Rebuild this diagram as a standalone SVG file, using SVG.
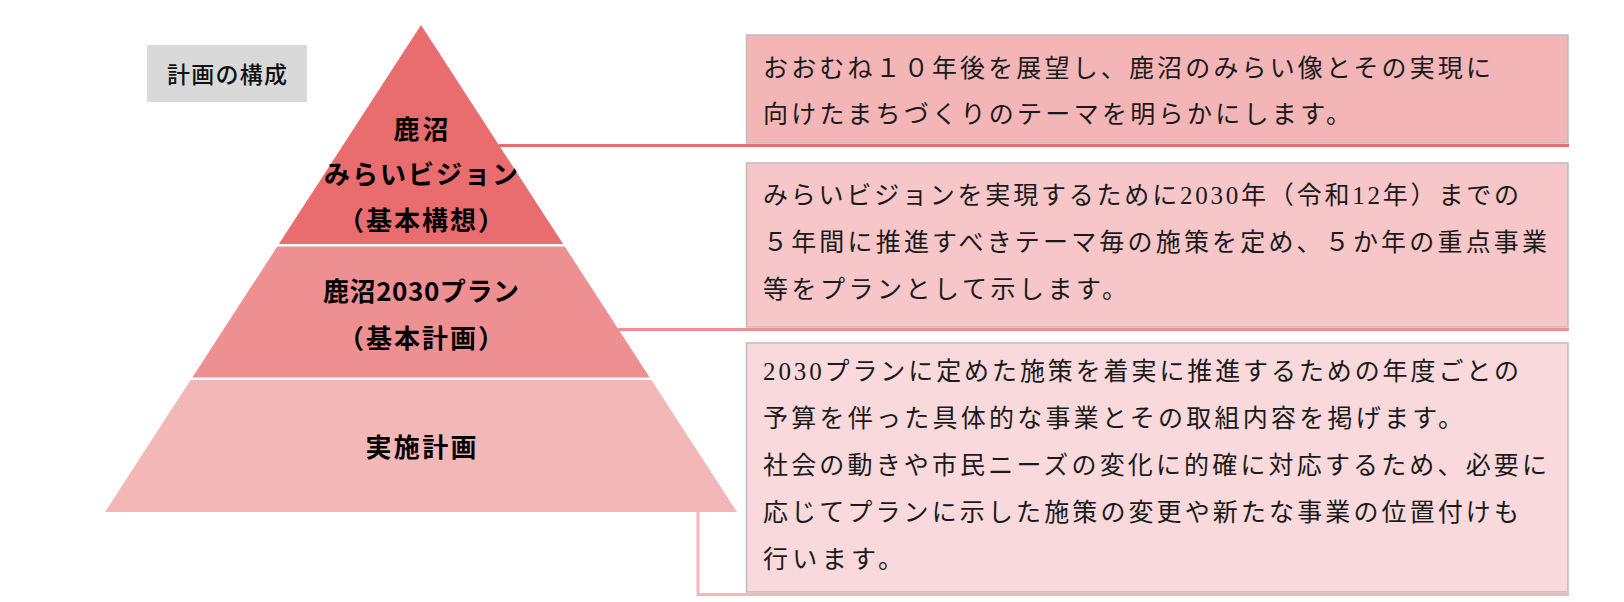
<svg xmlns="http://www.w3.org/2000/svg" width="1624" height="602" viewBox="0 0 1624 602">
  <style>
    .lbl { font-family: "Noto Sans CJK JP", "Noto Sans", sans-serif; font-weight: 700; font-size: 26px; fill: #000; text-anchor: middle; dominant-baseline: central; }
    .desc { font-family: "Liberation Serif", "Noto Sans CJK JP", serif; font-size: 25px; fill: #1a1a1a; dominant-baseline: central; }
    .box { stroke: #BDBDBD; stroke-width: 1.5; }
    .conn { fill: none; stroke-width: 3; }
  </style>
  <rect width="1624" height="602" fill="#FFFFFF"/>

  <g id="title">
    <rect x="147" y="45" width="160" height="57" fill="#D9D9D9"/>
    <text x="227" y="73" font-family="'Noto Sans CJK JP', sans-serif" font-size="23" font-weight="500" text-anchor="middle" dominant-baseline="central" textLength="120" lengthAdjust="spacing" fill="#111">計画の構成</text>
  </g>

  <g id="connectors">
    <polyline class="conn" stroke="#E96C6F" points="498.9,145.5 1569,145.5"/>
    <polyline class="conn" stroke="#EE8F91" points="618.3,329.5 1569,329.5"/>
    <polyline class="conn" stroke="#F3B7B8" points="698,512 698,594.5 1569,594.5"/>
  </g>

  <g id="tier-vision">
    <polygon points="421,25 563.1,244 278.9,244" fill="#E96C6F"/>
    <text class="lbl" x="421" y="127" textLength="55" lengthAdjust="spacing">鹿沼</text>
    <text class="lbl" x="421" y="172" textLength="194" lengthAdjust="spacing">みらいビジョン</text>
    <text class="lbl" x="421" y="218" textLength="166" lengthAdjust="spacing">（基本構想）</text>
  </g>

  <g id="tier-plan">
    <polygon points="277.3,246.5 564.7,246.5 649.7,377.5 192.3,377.5" fill="#EE8F91"/>
    <text class="lbl" x="421" y="289" textLength="196" lengthAdjust="spacing">鹿沼2030プラン</text>
    <text class="lbl" x="421" y="336" textLength="166" lengthAdjust="spacing">（基本計画）</text>
  </g>

  <g id="tier-action">
    <polygon points="190.6,380 651.4,380 737,512 105,512" fill="#F3B7B8"/>
    <text class="lbl" x="421" y="445" textLength="111" lengthAdjust="spacing">実施計画</text>
  </g>

  <g id="box-vision">
    <rect class="box" x="746.5" y="35" width="821.5" height="108" fill="#F4B5B7"/>
    <text class="desc" x="763" y="68" textLength="728" lengthAdjust="spacing">おおむね１０年後を展望し、鹿沼のみらい像とその実現に</text>
    <text class="desc" x="763" y="114" textLength="588" lengthAdjust="spacing">向けたまちづくりのテーマを明らかにします。</text>
  </g>

  <g id="box-plan">
    <rect class="box" x="746.5" y="163" width="821.5" height="164" fill="#F6C6C8"/>
    <text class="desc" x="763" y="195" textLength="756" lengthAdjust="spacing">みらいビジョンを実現するために2030年（令和12年）までの</text>
    <text class="desc" x="763" y="242" textLength="784" lengthAdjust="spacing">５年間に推進すべきテーマ毎の施策を定め、５か年の重点事業</text>
    <text class="desc" x="763" y="289" textLength="364" lengthAdjust="spacing">等をプランとして示します。</text>
  </g>

  <g id="box-action">
    <rect class="box" x="746.5" y="343" width="821.5" height="249" fill="#F9D9DB"/>
    <text class="desc" x="763" y="371" textLength="756" lengthAdjust="spacing">2030プランに定めた施策を着実に推進するための年度ごとの</text>
    <text class="desc" x="763" y="418" textLength="700" lengthAdjust="spacing">予算を伴った具体的な事業とその取組内容を掲げます。</text>
    <text class="desc" x="763" y="465" textLength="784" lengthAdjust="spacing">社会の動きや市民ニーズの変化に的確に対応するため、必要に</text>
    <text class="desc" x="763" y="512" textLength="756" lengthAdjust="spacing">応じてプランに示した施策の変更や新たな事業の位置付けも</text>
    <text class="desc" x="763" y="559" textLength="140" lengthAdjust="spacing">行います。</text>
  </g>
</svg>
